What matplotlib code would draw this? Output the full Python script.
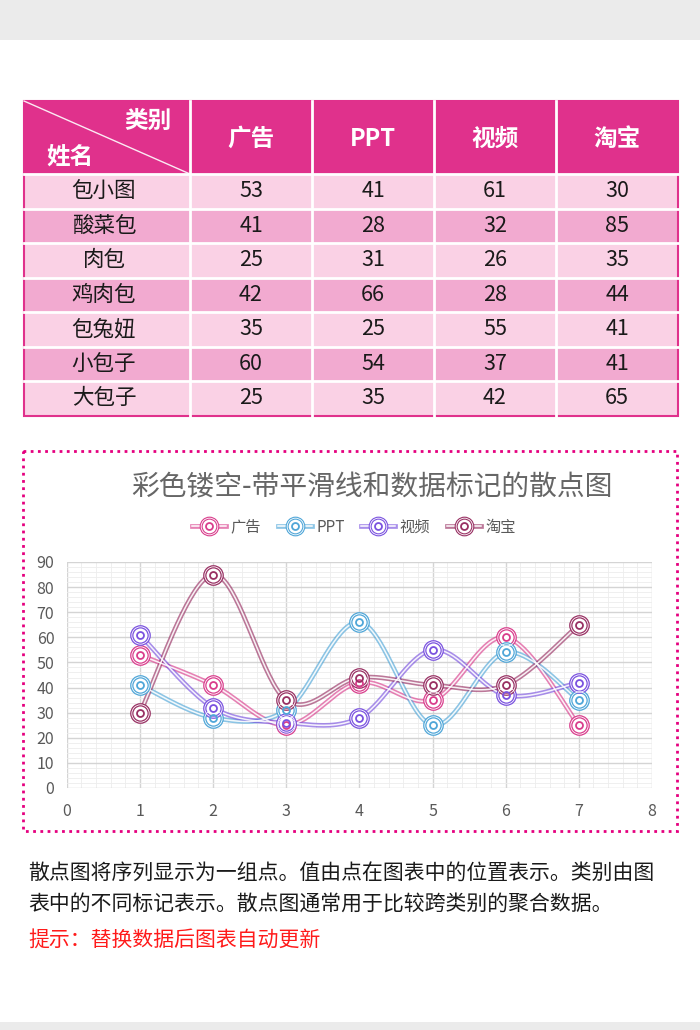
import matplotlib
matplotlib.use('Agg')
import matplotlib.pyplot as plt
import numpy as np
from matplotlib.patches import Rectangle
from matplotlib.lines import Line2D
from matplotlib.legend_handler import HandlerTuple
from matplotlib.ticker import MultipleLocator

plt.rcParams['font.family'] = ['Noto Sans CJK SC', 'DejaVu Sans']

# ---------------- data ----------------
names = ['包小图', '酸菜包', '肉包', '鸡肉包', '包兔妞', '小包子', '大包子']
categories = ['广告', 'PPT', '视频', '淘宝']
ad = [53, 41, 25, 42, 35, 60, 25]
ppt = [41, 28, 31, 66, 25, 54, 35]
video = [61, 32, 26, 28, 55, 37, 42]
taobao = [30, 85, 35, 44, 41, 41, 65]
x_vals = [1, 2, 3, 4, 5, 6, 7]
series = [ad, ppt, video, taobao]
colors = ['#d93d8c', '#4fa6d8', '#7a52df', '#983063']

title = '彩色镂空-带平滑线和数据标记的散点图'
desc1 = '散点图将序列显示为一组点。值由点在图表中的位置表示。类别由图'
desc2 = '表中的不同标记表示。散点图通常用于比较跨类别的聚合数据。'
hint = '提示：替换数据后图表自动更新'

# ---------------- figure ----------------
W, H = 700, 1030
fig = plt.figure(figsize=(W / 100, H / 100), dpi=100)
bg = fig.add_axes([0, 0, 1, 1])
bg.set_xlim(0, W)
bg.set_ylim(H, 0)
bg.axis('off')

# grey bands
bg.add_patch(Rectangle((0, 0), W, 40, facecolor='#ebebeb', edgecolor='none'))
bg.add_patch(Rectangle((0, 1022), W, 8, facecolor='#ebebeb', edgecolor='none'))

# ---------------- table ----------------
tx0, ty0 = 24, 101
first_w, col_w = 166, 122
head_h, row_h = 73, 34.5
head_col = '#e0318c'
row_cols = ['#fad1e5', '#f2aad0']
table_values = list(zip(*series))  # rows

col_x = [tx0] + [tx0 + first_w + i * col_w for i in range(len(categories) + 1)]
bg.add_patch(Rectangle((tx0, ty0), first_w + col_w * len(categories), head_h,
                       facecolor=head_col, edgecolor='none'))
for r in range(len(names)):
    y = ty0 + head_h + r * row_h
    bg.add_patch(Rectangle((tx0, y), first_w + col_w * len(categories), row_h,
                           facecolor=row_cols[r % 2], edgecolor='none'))
for cx in col_x[1:-1]:
    bg.plot([cx, cx], [ty0, ty0 + head_h + row_h * len(names)], color='white', lw=2)
for r in range(len(names)):
    y = ty0 + head_h + r * row_h
    bg.plot([tx0, col_x[-1]], [y, y], color='white', lw=2)
bg.add_patch(Rectangle((tx0, ty0), col_x[-1] - tx0, head_h + row_h * len(names),
                       facecolor='none', edgecolor='#e0318c', lw=1.5))
bg.plot([tx0, col_x[1]], [ty0, ty0 + head_h], color='white', lw=1, alpha=0.9)
bg.text(148, 121, '类别', color='white', fontsize=17, fontweight='bold', ha='center', va='center')
bg.text(70, 157, '姓名', color='white', fontsize=17, fontweight='bold', ha='center', va='center')
for i, c in enumerate(categories):
    cx = col_x[i + 1] + col_w / 2
    bg.text(cx, ty0 + head_h / 2 + 1, c, color='white', fontsize=17, fontweight='bold',
            ha='center', va='center')
for r, nm in enumerate(names):
    cy = ty0 + head_h + (r + 0.5) * row_h
    bg.text(tx0 + first_w / 2 - 3, cy, nm, color='#1a1a1a', fontsize=15.5, ha='center', va='center')
    for i, v in enumerate(table_values[r]):
        cx = col_x[i + 1] + col_w / 2
        bg.text(cx, cy, str(v), color='#1a1a1a', fontsize=15.5, ha='center', va='center')

# ---------------- chart frame ----------------
bg.add_patch(Rectangle((23, 451), 654, 380, facecolor='none', edgecolor='#e5007f',
                       lw=2, linestyle=(0, (1, 1.6))))
bg.text(372, 487, title, color='#666666', fontsize=20, fontweight='light',
        ha='center', va='center')

# ---------------- chart axes ----------------
ax = fig.add_axes([66.8 / W, 1 - 788 / H, (652 - 66.8) / W, (788 - 562) / H])
ax.set_xlim(0, 8)
ax.set_ylim(0, 90)
ax.xaxis.set_major_locator(MultipleLocator(1))
ax.yaxis.set_major_locator(MultipleLocator(10))
ax.xaxis.set_minor_locator(MultipleLocator(0.2))
ax.yaxis.set_minor_locator(MultipleLocator(2))
ax.grid(which='minor', color='#ededed', lw=0.6)
ax.grid(which='major', color='#d4d4d4', lw=1.0)
ax.set_axisbelow(True)
for s in ax.spines.values():
    s.set_visible(False)
ax.tick_params(which='both', length=0, colors='#595959', labelsize=11.5)
ax.tick_params(axis='x', pad=11)
ax.tick_params(axis='y', pad=9)


def catmull_rom(xs, ys, n=40):
    P = np.column_stack([xs, ys]).astype(float)
    P = np.vstack([P[0], P, P[-1]])
    out = []
    t = np.linspace(0, 1, n)[:, None]
    for i in range(1, len(P) - 2):
        p0, p1, p2, p3 = P[i - 1], P[i], P[i + 1], P[i + 2]
        seg = 0.5 * ((2 * p1) + (-p0 + p2) * t + (2 * p0 - 5 * p1 + 4 * p2 - p3) * t ** 2 +
                     (-p0 + 3 * p1 - 3 * p2 + p3) * t ** 3)
        out.append(seg if i == 1 else seg[1:])
    out = np.vstack(out)
    return out[:, 0], out[:, 1]


handles = []
for s, c in zip(series, colors):
    sx, sy = catmull_rom(x_vals, s)
    ax.plot(sx, sy, color=c, lw=3.4, alpha=0.65, solid_capstyle='round', zorder=3)
    ax.plot(sx, sy, color='white', lw=1.1, alpha=0.9, zorder=3.1)
for s, c in zip(series, colors):
    ax.plot(x_vals, s, ls='none', marker='o', ms=12.5, mfc='white', mec=c, mew=2.4, zorder=5)
    ax.plot(x_vals, s, ls='none', marker='o', ms=12.5, mfc='none', mec='white', mew=0.6, zorder=5.1)
    ax.plot(x_vals, s, ls='none', marker='o', ms=5, mfc='none', mec=c, mew=1.3, zorder=5.2)
    h1 = Line2D([], [], color=c, lw=3.4, alpha=0.65)
    h2 = Line2D([], [], color='white', lw=1.1)
    h3 = Line2D([], [], ls='none', marker='o', ms=12, mfc='white', mec=c, mew=2.2)
    h3b = Line2D([], [], ls='none', marker='o', ms=12, mfc='none', mec='white', mew=0.6)
    h4 = Line2D([], [], ls='none', marker='o', ms=5, mfc='none', mec=c, mew=1.3)
    handles.append((h1, h2, h3, h3b, h4))

fig.legend(handles, categories, handler_map={tuple: HandlerTuple(ndivide=1, pad=0)},
           loc='center', bbox_to_anchor=(354 / W, 1 - 527 / H), ncol=4, frameon=False,
           fontsize=11, handlelength=2.2, handletextpad=0.3, columnspacing=1.1,
           numpoints=1, labelcolor='#595959')

# ---------------- description ----------------
bg.text(28, 873, desc1, color='#1a1a1a', fontsize=15, ha='left', va='center')
bg.text(28, 904, desc2, color='#1a1a1a', fontsize=15, ha='left', va='center')
bg.text(28, 940, hint, color='#ff1a1a', fontsize=15, ha='left', va='center')

fig.savefig('out.png', dpi=100)
